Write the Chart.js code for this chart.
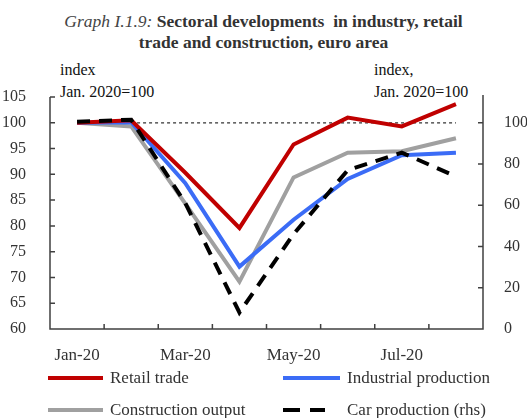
<!DOCTYPE html>
<html>
<head>
<meta charset="utf-8">
<script src="https://cdn.jsdelivr.net/npm/chart.js@4"></script>
<style>
  body { margin: 0; background: #fff; }
  #wrap { position: relative; width: 527px; height: 418px; font-family: "Liberation Serif", "Times New Roman", serif; color: #333; }
  #chart { position: absolute; left: 0; top: 0; }
  .title { position: absolute; left: 0; width: 527px; text-align: center; font-size: 17.5px; font-weight: bold; color: #333; line-height: 1; }
  .title i { font-weight: normal; color: #444; }
  .note { position: absolute; font-size: 16px; color: #111; line-height: 1; }
  .leg { position: absolute; font-size: 17px; color: #333; line-height: 1; }
  .swatch { position: absolute; height: 4px; }
</style>
</head>
<body>
<div id="wrap">
  <div class="title" style="top:13px"><i>Graph I.1.9:</i> Sectoral developments&nbsp; in industry, retail</div>
  <div class="title" style="top:34px">trade and construction, euro area</div>

  <div class="note" style="left:60px; top:62px">index</div>
  <div class="note" style="left:60px; top:84px">Jan. 2020=100</div>
  <div class="note" style="left:374px; top:62px">index,</div>
  <div class="note" style="left:374px; top:84px">Jan. 2020=100</div>

  <canvas id="chart" width="527" height="418"></canvas>

  <div class="swatch" style="left:48px; top:376px; width:55px; background:#C00000"></div>
  <div class="leg" style="left:110px; top:369px">Retail trade</div>
  <div class="swatch" style="left:283px; top:376px; width:57px; background:#3B6CF6"></div>
  <div class="leg" style="left:347px; top:369px">Industrial production</div>
  <div class="swatch" style="left:48px; top:408px; width:55px; background:#A0A0A0"></div>
  <div class="leg" style="left:110px; top:401px">Construction output</div>
  <div class="swatch" style="left:283px; top:408px; width:17px; background:#000"></div>
  <div class="swatch" style="left:310px; top:408px; width:15px; background:#000"></div>
  <div class="leg" style="left:347px; top:401px">Car production (rhs)</div>
</div>

<script>
const months = ["Jan-20", "Feb-20", "Mar-20", "Apr-20", "May-20", "Jun-20", "Jul-20", "Aug-20"];
const retailTrade = [100, 100.5, 90.3, 79.6, 95.8, 101.0, 99.3, 103.6];
const industrialProduction = [100, 100.1, 88.3, 72.1, 81.2, 89.1, 93.7, 94.2];
const constructionOutput = [100, 99.3, 84.3, 69.2, 89.4, 94.2, 94.5, 97.0];
const carProduction = [100.5, 101.5, 61, 8, 46, 77, 85.5, 74]; // right axis
const refLine = [100, 100, 100, 100, 100, 100, 100, 100];
const leftTicks = [60, 65, 70, 75, 80, 85, 90, 95, 100, 105];
const rightTicks = [0, 20, 40, 60, 80, 100];

const axisColor = "#404040";
const tickFont = { family: "Liberation Serif", size: 16 };

// axis lines and inward tick marks
const axisPlugin = {
  id: "axisPlugin",
  afterDraw(chart) {
    const ctx = chart.ctx;
    const area = chart.chartArea;
    const x = chart.scales.x, y = chart.scales.y, y2 = chart.scales.y2;
    ctx.save();
    ctx.strokeStyle = axisColor;
    ctx.lineWidth = 1.5;
    ctx.beginPath();
    ctx.moveTo(area.left, y.getPixelForValue(105));
    ctx.lineTo(area.left, area.bottom);
    ctx.lineTo(area.right, area.bottom);
    ctx.lineTo(area.right, area.top - 2);
    leftTicks.forEach(v => {
      const py = y.getPixelForValue(v);
      ctx.moveTo(area.left, py);
      ctx.lineTo(area.left + 5, py);
    });
    rightTicks.forEach(v => {
      const py = y2.getPixelForValue(v);
      ctx.moveTo(area.right - 5, py);
      ctx.lineTo(area.right, py);
    });
    const step = x.getPixelForValue(1) - x.getPixelForValue(0);
    for (let i = 0; i <= months.length; i++) {
      const px = x.getPixelForValue(0) - step / 2 + i * step;
      ctx.moveTo(px, area.bottom);
      ctx.lineTo(px, area.bottom - 5);
    }
    ctx.stroke();
    ctx.restore();
  }
};

new Chart(document.getElementById("chart"), {
  type: "line",
  data: {
    labels: months,
    datasets: [
      { label: "Car production (rhs)", data: carProduction, yAxisID: "y2", borderColor: "#000", borderWidth: 4, borderDash: [13, 9] },
      { label: "Retail trade", data: retailTrade, yAxisID: "y", borderColor: "#C00000", borderWidth: 4 },
      { label: "Industrial production", data: industrialProduction, yAxisID: "y", borderColor: "#3B6CF6", borderWidth: 4 },
      { label: "Construction output", data: constructionOutput, yAxisID: "y", borderColor: "#A0A0A0", borderWidth: 4 },
      { label: "ref", data: refLine, yAxisID: "y", borderColor: "#333", borderWidth: 1.3, borderDash: [3, 3] }
    ]
  },
  options: {
    responsive: false,
    animation: false,
    events: [],
    elements: { point: { radius: 0 }, line: { tension: 0, borderJoinStyle: "miter" } },
    layout: { padding: { top: 97, left: 0, right: 0, bottom: 49 } },
    plugins: { legend: { display: false }, tooltip: { enabled: false } },
    scales: {
      x: {
        offset: true,
        grid: { display: false },
        border: { display: false },
        afterFit(s) { s.height = 40; },
        ticks: {
          autoSkip: false, maxRotation: 0, padding: 8, color: "#333",
          font: { family: "Liberation Serif", size: 17 },
          callback(v, i) { return i % 2 === 0 ? months[i] : ""; }
        }
      },
      y: {
        position: "left", min: 60, max: 105,
        grid: { display: false },
        border: { display: false },
        afterFit(s) { s.width = 50; },
        afterBuildTicks(s) { s.ticks = leftTicks.map(v => ({ value: v })); },
        ticks: { padding: 16, color: "#333", font: tickFont }
      },
      y2: {
        position: "right", min: 0, max: 112.5,
        grid: { display: false },
        border: { display: false },
        afterFit(s) { s.width = 44; },
        afterBuildTicks(s) { s.ticks = rightTicks.map(v => ({ value: v })); },
        ticks: { padding: 13, color: "#333", font: tickFont }
      }
    }
  },
  plugins: [axisPlugin]
});
</script>
</body>
</html>
